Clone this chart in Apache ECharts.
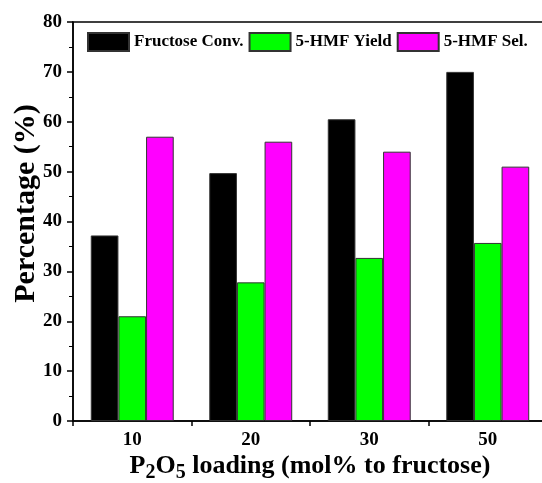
<!DOCTYPE html>
<html>
<head>
<meta charset="utf-8">
<script src="https://cdn.jsdelivr.net/npm/echarts@6/dist/echarts.min.js"></script>
<style>
  html, body { margin: 0; padding: 0; background: #fff; }
</style>
</head>
<body>
<div id="main" style="width: 542px; height: 483px;"></div>
<script>
// data
var loadings = ['10', '20', '30', '50'];
var fructoseConv = [37.2, 49.7, 60.5, 70.0];
var hmfYield = [21.0, 27.8, 32.7, 35.7];
var hmfSel = [57.0, 56.0, 54.0, 51.0];
var legendNames = ['Fructose Conv.', '5-HMF Yield', '5-HMF Sel.'];

var font = 'Liberation Serif, Times New Roman, serif';

var myChart = echarts.init(document.getElementById('main'));

function barSeries(name, data, color) {
    return {
        name: name,
        type: 'bar',
        data: data,
        barGap: '0%',
        barCategoryGap: '30%',
        itemStyle: {
            color: color,
            borderColor: '#333',
            borderWidth: 1
        }
    };
}

var option = {
    animation: false,
    backgroundColor: '#fff',
    textStyle: { fontFamily: font },
    grid: {
        left: 73,
        right: -5,
        top: 22,
        bottom: 62,
        outerBoundsMode: 'none',
        containLabel: false,
        show: true,
        borderColor: '#000',
        borderWidth: 1.5
    },
    legend: {
        data: legendNames,
        left: 82,
        top: 27,
        width: 470,
        itemWidth: 41,
        itemHeight: 18,
        itemGap: 5,
        icon: 'rect',
        textStyle: {
            fontFamily: font,
            fontWeight: 'bold',
            fontSize: 17,
            color: '#000'
        }
    },
    xAxis: {
        type: 'category',
        data: loadings,
        name: '{b|P}{s|2}{b|O}{s|5}{b| loading (mol% to fructose)}',
        nameLocation: 'middle',
        nameGap: 28,
        nameMoveOverlap: false,
        nameTextStyle: {
            rich: {
                b: { fontFamily: font, fontWeight: 'bold', fontSize: 26, color: '#000' },
                s: { fontFamily: font, fontWeight: 'bold', fontSize: 20, color: '#000', padding: [14, 0, 0, 0] }
            }
        },
        axisLine: { lineStyle: { color: '#000', width: 1.5 } },
        axisTick: { show: true, inside: false, length: 5, lineStyle: { color: '#000', width: 1.5 } },
        axisLabel: {
            margin: 10,
            fontFamily: font,
            fontWeight: 'bold',
            fontSize: 19,
            color: '#000'
        }
    },
    yAxis: {
        type: 'value',
        min: 0,
        max: 80,
        interval: 10,
        name: 'Percentage (%)',
        nameLocation: 'middle',
        nameGap: 32,
        nameMoveOverlap: false,
        nameTextStyle: {
            fontFamily: font,
            fontWeight: 'bold',
            fontSize: 30,
            color: '#000',
            padding: [0, 0, 0, 36]
        },
        axisLine: { show: true, lineStyle: { color: '#000', width: 1.5 } },
        axisTick: { show: true, inside: false, length: 6, lineStyle: { color: '#000', width: 1.5 } },
        minorTick: { show: true, splitNumber: 2, length: 4, lineStyle: { color: '#000', width: 1 } },
        splitLine: { show: false },
        axisLabel: {
            margin: 11,
            fontFamily: font,
            fontWeight: 'bold',
            fontSize: 19,
            color: '#000'
        }
    },
    series: [
        barSeries(legendNames[0], fructoseConv, '#000000'),
        barSeries(legendNames[1], hmfYield, '#00ff00'),
        barSeries(legendNames[2], hmfSel, '#ff00ff')
    ]
};

myChart.setOption(option);
</script>
</body>
</html>
